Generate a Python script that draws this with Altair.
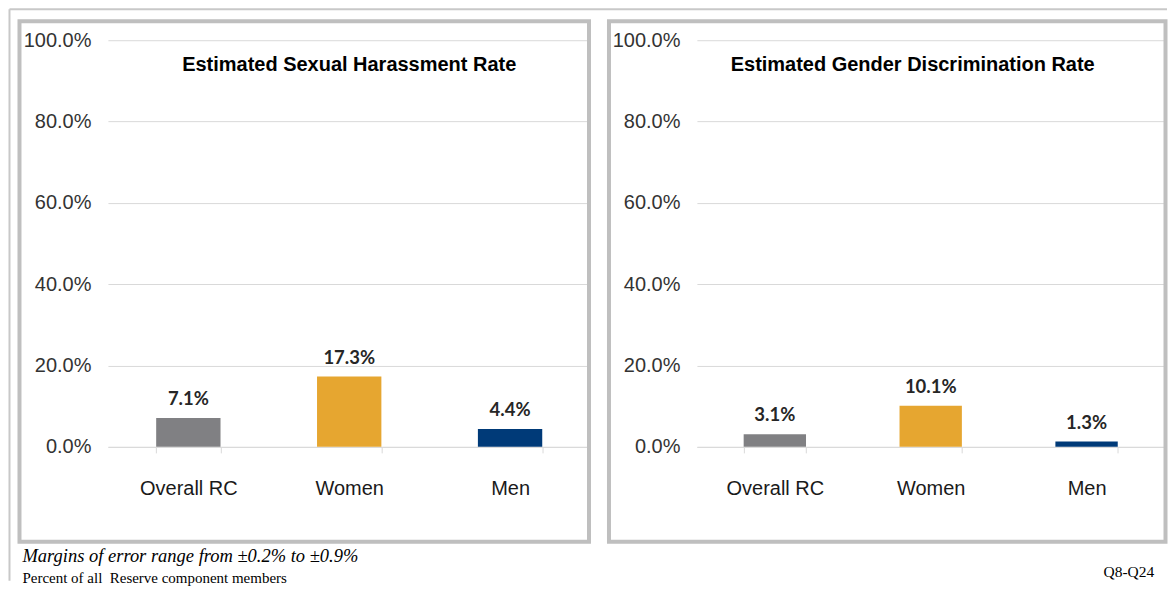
import altair as alt
import pandas as pd

categories = ["Overall RC", "Women", "Men"]
harassment = [0.071, 0.173, 0.044]
discrimination = [0.031, 0.101, 0.013]
bar_colors = ["#808083", "#E6A630", "#003A78"]
y_ticks = [0.0, 0.2, 0.4, 0.6, 0.8, 1.0]
titles = ["Estimated Sexual Harassment Rate", "Estimated Gender Discrimination Rate"]
footnotes = ["Margins of error range from \u00b10.2% to \u00b10.9%",
             "Percent of all\u00a0 Reserve component members"]
source_note = "Q8-Q24"

H = 407
SANS = "Liberation Sans"
SERIF = "Liberation Serif"
one = pd.DataFrame({"d": [0]})


def panel(values, title, width, title_x, border, extras):
    df = pd.DataFrame({"category": categories, "value": values, "color": bar_colors})
    x_axis = alt.Axis(title=None, labelAngle=0, labelFont=SANS, labelFontSize=20,
                      labelColor="#1a1a1a", labelPadding=26, tickBand="extent",
                      tickSize=6, tickColor="#d9d9d9", domainColor="#d9d9d9", grid=False)
    y_axis = alt.Axis(title=None, values=y_ticks, format=".1%", labelFont=SANS,
                      labelFontSize=20, labelColor="#333333", labelPadding=17,
                      ticks=False, domain=False, gridColor="#d9d9d9", gridWidth=1)
    xs = alt.Scale(paddingInner=0.6, paddingOuter=0.3)
    ys = alt.Scale(domain=[0, 1], nice=False)
    base = alt.Chart(df)
    bars = base.mark_bar().encode(
        x=alt.X("category:N", sort=categories, scale=xs, axis=x_axis),
        y=alt.Y("value:Q", scale=ys, axis=y_axis),
        color=alt.Color("color:N", scale=None),
    )
    labels = base.mark_text(font="Lato", fontWeight="bold", fontSize=18.5, color="#262626",
                            dy=-13, baseline="alphabetic").encode(
        x=alt.X("category:N", sort=categories),
        y=alt.Y("value:Q"),
        text=alt.Text("value:Q", format=".1%"),
    )
    bx1, bx2, by1, by2 = border
    frame = alt.Chart(one).mark_rect(fillOpacity=0, stroke="#bfbfbf", strokeWidth=4).encode(
        x=alt.value(bx1), x2=alt.value(bx2), y=alt.value(by1), y2=alt.value(by2))
    ttl = alt.Chart(one).mark_text(text=title, font=SANS, fontSize=20, fontWeight="bold",
                                   color="#000000", baseline="alphabetic", align="center").encode(
        x=alt.value(title_x), y=alt.value(31))
    return alt.layer(frame, bars, labels, ttl, *extras).properties(width=width, height=H)


left_extras = [
    alt.Chart(one).mark_rule(stroke="#c8c8c8", strokeWidth=2).encode(
        x=alt.value(-98.5), y=alt.value(-31), y2=alt.value(541)),
    alt.Chart(one).mark_rule(stroke="#c8c8c8", strokeWidth=2).encode(
        x=alt.value(-98.5), x2=alt.value(1060), y=alt.value(-31)),
    alt.Chart(one).mark_text(text=footnotes[0], font=SERIF, fontSize=18.5, fontStyle="italic",
                             color="#000000", align="left", baseline="alphabetic").encode(
        x=alt.value(-85.5), y=alt.value(522)),
    alt.Chart(one).mark_text(text=footnotes[1], font=SERIF, fontSize=15,
                             color="#000000", align="left", baseline="alphabetic").encode(
        x=alt.value(-85.5), y=alt.value(543)),
]
right_extras = [
    alt.Chart(one).mark_text(text=source_note, font=SERIF, fontSize=15.5,
                             color="#000000", align="left", baseline="alphabetic").encode(
        x=alt.value(407), y=alt.value(537)),
]

left = panel(harassment, titles[0], 483, 241.5, (-88.5, 481.5, -19, 502), left_extras)
right = panel(discrimination, titles[1], 468, 216, (-88, 469, -19, 502), right_extras)

chart = alt.hconcat(left, right, spacing=106.5, bounds="flush").properties(
    padding=0, background="#ffffff"
).configure_view(stroke=None)

chart.save("out.html", embed_options={"renderer": "svg", "actions": False})
